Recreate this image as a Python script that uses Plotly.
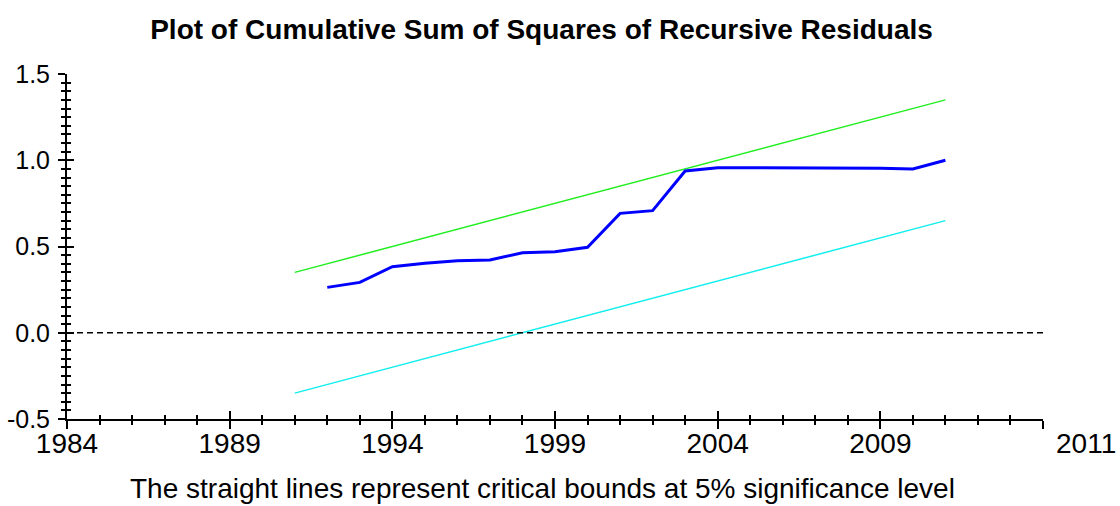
import plotly.graph_objects as go

# CUSUMSQ of recursive residuals
years = [1992, 1993, 1994, 1995, 1996, 1997, 1998, 1999, 2000, 2001,
         2002, 2003, 2004, 2005, 2006, 2007, 2008, 2009, 2010, 2011]
cusumsq = [0.263, 0.292, 0.383, 0.403, 0.418, 0.422, 0.464, 0.470, 0.495, 0.692,
           0.708, 0.938, 0.957, 0.956, 0.955, 0.955, 0.956, 0.954, 0.949, 1.000]

# 5% critical bounds (straight lines)
bound_years = [1991, 2011]
upper_bound = [0.35, 1.35]
lower_bound = [-0.35, 0.65]

# axis ticks / labels
x_range = [1984, 2014]
x_tickvals = [1984, 1989, 1994, 1999, 2004, 2009, 2014]
x_ticktext = ["1984", "1989", "1994", "1999", "2004", "2009", ""]
y_range = [-0.5, 1.5]
y_tickvals = [-0.5, 0.0, 0.5, 1.0, 1.5]
y_ticktext = ["-0.5", "0.0", "0.5", "1.0", "1.5"]
last_obs = "2011"

font = "Liberation Sans, Arial, sans-serif"

fig = go.Figure()

fig.add_trace(go.Scatter(x=bound_years, y=upper_bound, mode="lines",
                         line=dict(color="#22ee22", width=1.5), showlegend=False))
fig.add_trace(go.Scatter(x=bound_years, y=lower_bound, mode="lines",
                         line=dict(color="#11eeee", width=1.5), showlegend=False))
fig.add_trace(go.Scatter(x=years, y=cusumsq, mode="lines",
                         line=dict(color="#0000ff", width=3), showlegend=False))
# dummy trace so the overlay axes (ticks on the inner side) get drawn
fig.add_trace(go.Scatter(x=[None], y=[None], xaxis="x2", yaxis="y2",
                         showlegend=False, hoverinfo="skip"))

fig.add_hline(y=0, line=dict(color="black", width=1.5, dash="6px,4px"))

axis_common = dict(showgrid=False, zeroline=False, showline=True, automargin=False,
                   linecolor="black", linewidth=2, tickcolor="black")

fig.update_layout(
    width=1120, height=506,
    margin=dict(l=67, r=77, t=74, b=87),
    paper_bgcolor="white", plot_bgcolor="white",
    font=dict(family=font, color="black"),
    title=dict(text="<b>Plot of Cumulative Sum of Squares of Recursive Residuals</b>",
               x=0.4835, xanchor="center", y=0.943, yanchor="middle",
               font=dict(size=28, family=font, color="black")),
    xaxis=dict(range=x_range, tickmode="array", tickvals=x_tickvals, ticktext=x_ticktext,
               ticks="outside", ticklen=8, tickwidth=2, tickfont=dict(size=28),
               ticklabelstandoff=-10,
               minor=dict(tick0=1984, dtick=1, ticks="outside", ticklen=4, tickwidth=1.5,
                          tickcolor="black"),
               **axis_common),
    yaxis=dict(range=y_range, tickmode="array", tickvals=y_tickvals, ticktext=y_ticktext,
               ticks="outside", ticklen=7, tickwidth=2, tickfont=dict(size=25),
               ticklabelstandoff=3,
               minor=dict(tick0=-0.5, dtick=0.05, ticks="outside", ticklen=4, tickwidth=1.5,
                          tickcolor="black"),
               **axis_common),
    xaxis2=dict(range=x_range, overlaying="x", anchor="y2", side="bottom",
                tickmode="array", tickvals=x_tickvals,
                ticks="inside", ticklen=8, tickwidth=2, showticklabels=False,
                minor=dict(tick0=1984, dtick=1, ticks="inside", ticklen=4, tickwidth=1.5,
                           tickcolor="black"),
                **axis_common),
    yaxis2=dict(range=y_range, overlaying="y", anchor="x2", side="left",
                tickmode="array", tickvals=y_tickvals,
                ticks="inside", ticklen=7, tickwidth=2, showticklabels=False,
                minor=dict(tick0=-0.5, dtick=0.05, ticks="inside", ticklen=4, tickwidth=1.5,
                           tickcolor="black"),
                **axis_common),
    annotations=[
        dict(text=last_obs, xref="paper", yref="paper", x=1.044, y=-0.070,
             xanchor="center", yanchor="middle", showarrow=False,
             font=dict(size=28, family=font, color="black")),
        dict(text="The straight lines represent critical bounds at 5% significance level",
             xref="paper", yref="paper", x=0.487, y=-0.200,
             xanchor="center", yanchor="middle", showarrow=False,
             font=dict(size=28, family=font, color="black")),
    ],
)

# drop the default body margin so the 1120x506 figure fills the window exactly
fig.write_html("out.html", config={"displayModeBar": False},
               post_script="document.body.style.margin='0';")
